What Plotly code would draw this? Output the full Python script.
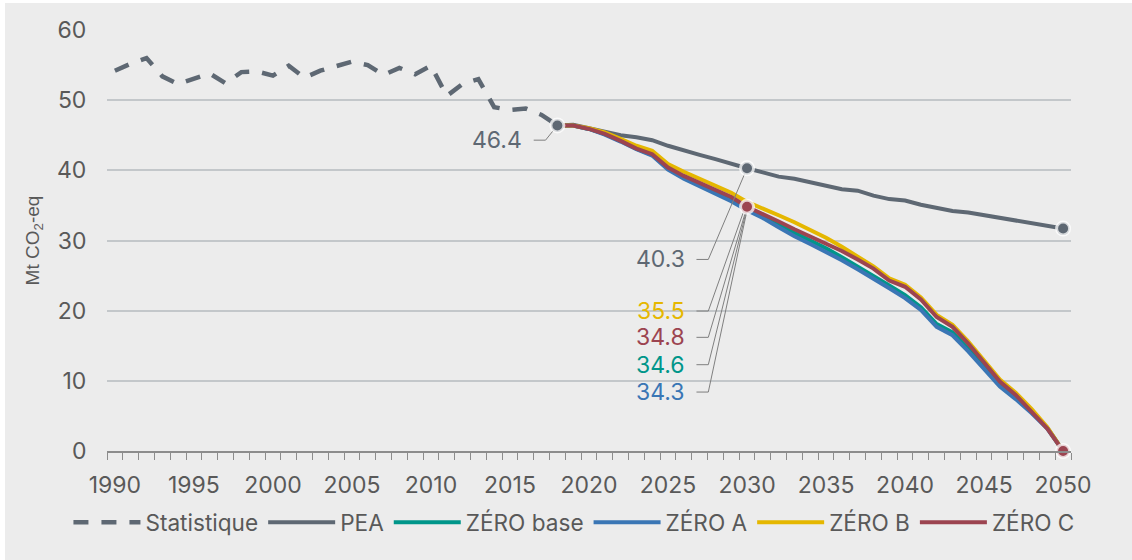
import plotly.graph_objects as go

# ---- data -------------------------------------------------------------
years_hist = list(range(1990, 2019))
statistique = [54.2, 55.2, 56.0, 53.4, 52.3, 53.1, 53.8, 52.4, 54.0, 54.1,
               53.5, 54.9, 53.2, 54.2, 54.8, 55.5, 55.0, 53.6, 54.6, 53.7,
               54.9, 50.6, 52.3, 53.0, 49.0, 48.6, 48.8, 47.9, 46.4]

years_proj = list(range(2018, 2051))
pea = [46.4, 46.5, 46.0, 45.5, 45.0, 44.7, 44.3, 43.5, 42.8, 42.2, 41.6,
       40.9, 40.3, 39.7, 39.1, 38.8, 38.3, 37.7, 37.3, 37.1, 36.4, 35.9,
       35.7, 35.1, 34.6, 34.2, 34.0, 33.6, 33.2, 32.8, 32.4, 32.1, 31.7]
zero_base = [46.4, 46.4, 45.9, 45.2, 44.2, 43.1, 42.2, 40.3, 39.0, 38.0, 37.0,
             35.9, 34.6, 33.5, 32.3, 31.1, 30.0, 28.9, 27.6, 26.3, 25.0, 23.6,
             22.2, 20.5, 18.1, 16.9, 14.6, 12.2, 9.6, 7.7, 5.6, 3.3, 0.0]
zero_a = [46.4, 46.4, 45.9, 45.1, 44.1, 43.0, 42.1, 40.1, 38.8, 37.7, 36.7,
          35.6, 34.3, 33.2, 31.9, 30.6, 29.5, 28.4, 27.2, 25.9, 24.6, 23.2,
          21.8, 20.1, 17.7, 16.5, 14.2, 11.8, 9.2, 7.4, 5.4, 3.2, 0.0]
zero_b = [46.4, 46.4, 46.0, 45.4, 44.5, 43.5, 42.8, 40.9, 39.8, 38.8, 37.9,
          36.8, 35.5, 34.6, 33.6, 32.6, 31.5, 30.4, 29.1, 27.7, 26.3, 24.6,
          23.7, 21.9, 19.4, 18.0, 15.6, 12.9, 10.2, 8.3, 6.0, 3.4, 0.0]
zero_c = [46.4, 46.4, 45.9, 45.2, 44.2, 43.1, 42.3, 40.4, 39.2, 38.2, 37.3,
          36.2, 34.8, 33.8, 32.7, 31.6, 30.6, 29.6, 28.5, 27.3, 26.0, 24.3,
          23.4, 21.6, 19.1, 17.7, 15.3, 12.6, 9.9, 8.0, 5.7, 3.2, 0.0]

x_ticks = list(range(1990, 2051, 5))

GRAY = "#5E6873"
TEAL = "#00968A"
BLUE = "#3A76B5"
YELLOW = "#E5B700"
RED = "#9C4450"
BG = "#ECECEC"
TXT = "#595959"
FONT = "Inter"

fig = go.Figure()

fig.add_trace(go.Scatter(
    x=years_hist, y=statistique, mode="lines", name="Statistique",
    line=dict(color=GRAY, width=4.5, dash="15px,13px"),
))
series = [("PEA", pea, GRAY), ("ZÉRO base", zero_base, TEAL),
          ("ZÉRO A", zero_a, BLUE), ("ZÉRO B", zero_b, YELLOW),
          ("ZÉRO C", zero_c, RED)]
for name, vals, color in series:
    fig.add_trace(go.Scatter(
        x=years_proj, y=vals, mode="lines", name=name,
        line=dict(color=color, width=4),
    ))

# Leader lines (label -> point)
i30 = years_proj.index(2030)
leaders = [
    (2015.9, 44.3, 2018, statistique[-1], GRAY),
    (2026.2, 27.3, 2030, pea[i30], GRAY),
    (2026.2, 19.95, 2030, zero_b[i30], YELLOW),
    (2026.2, 16.2, 2030, zero_c[i30], RED),
    (2026.2, 12.3, 2030, zero_base[i30], TEAL),
    (2026.2, 8.4, 2030, zero_a[i30], BLUE),
]
for lx, ly, px, py, tcolor in leaders:
    fig.add_trace(go.Scatter(
        x=[lx + 0.6, lx + 1.35, px], y=[ly, ly, py], mode="lines",
        line=dict(color="#7F7F7F", width=1), showlegend=False, hoverinfo="skip",
    ))
    fig.add_annotation(x=lx, y=ly, text=f"{py:.1f}", showarrow=False,
                       xanchor="right", yanchor="middle",
                       font=dict(family=FONT, size=23, color=tcolor))

# Highlighted points
halo = dict(width=3, color="rgba(255,255,255,0.75)")
pts = [
    (2018, statistique[-1], GRAY),
    (2030, pea[i30], GRAY),
    (2030, zero_c[i30], RED),
    (2050, pea[-1], GRAY),
    (2050, zero_c[-1], RED),
]
for px, py, c in pts:
    fig.add_trace(go.Scatter(
        x=[px], y=[py], mode="markers", showlegend=False, hoverinfo="skip",
        marker=dict(size=13, color=c, line=halo), cliponaxis=False,
    ))

fig.add_annotation(x=2051.2, y=pea[-1], text=f"{pea[-1]:.1f}", showarrow=False,
                   xanchor="left", yanchor="middle",
                   font=dict(family=FONT, size=23, color=GRAY))
fig.add_annotation(x=2051.2, y=zero_c[-1], text=f"{zero_c[-1]:.1f}", showarrow=False,
                   xanchor="left", yanchor="middle",
                   font=dict(family=FONT, size=23, color="#95503A"))

fig.update_layout(
    width=1127, height=557,
    margin=dict(l=102, r=61, t=27, b=109),
    paper_bgcolor=BG, plot_bgcolor=BG,
    font=dict(family=FONT, size=22, color=TXT),
    xaxis=dict(
        range=[1989.5, 2050.5], tickvals=x_ticks, showgrid=False, zeroline=False,
        showline=True, linecolor="#8C8C8C", linewidth=1.5,
        ticks="outside", ticklen=13, tickcolor="rgba(0,0,0,0)",
        minor=dict(tick0=1989.5, dtick=1, ticks="outside", ticklen=7,
                   tickcolor="#8C8C8C", tickwidth=1, showgrid=False),
        tickfont=dict(size=23, color=TXT),
    ),
    yaxis=dict(
        range=[0, 60], dtick=10, showgrid=True, gridcolor="#C3C7CA", gridwidth=1.5,
        zeroline=False, showline=False, ticks="outside", ticklen=15,
        tickcolor="rgba(0,0,0,0)",
        tickfont=dict(size=23, color=TXT),
        title=dict(text="Mt CO<sub>2</sub>-eq", standoff=12,
                   font=dict(family="Liberation Sans", size=19, color=TXT)),
    ),
    legend=dict(orientation="h", x=-0.04, xanchor="left", y=-0.17, yanchor="middle",
                itemwidth=67, font=dict(size=22.6, color=TXT),
                bgcolor="rgba(0,0,0,0)"),
    showlegend=True,
)

fig.write_html("out.html", post_script="document.body.style.margin='3px 0 0 5px';")
